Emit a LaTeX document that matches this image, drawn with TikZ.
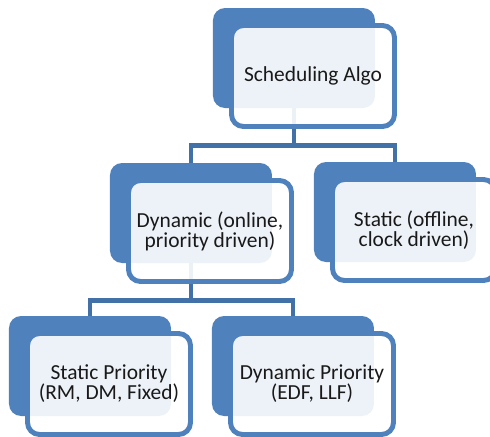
\documentclass[tikz,border=0pt]{standalone}
\usepackage{fontspec}
\setmainfont{Carlito}
\definecolor{boxblue}{RGB}{79,129,189}
\definecolor{linkblue}{RGB}{65,113,167}
\tikzset{back/.style={fill=boxblue,rounded corners=0.24cm,minimum width=3.24cm,minimum height=2cm},
  front/.style={draw=boxblue,line width=2.8pt,fill=white,fill opacity=0.9,text opacity=1,
    rounded corners=0.24cm,minimum width=3.26cm,minimum height=2.02cm,align=center,
    text=black!90,font=\fontsize{12.2}{11.4}\selectfont},
  link/.style={draw=linkblue,line width=2.8pt}}

\begin{document}
\begin{tikzpicture}
  \useasboundingbox (0,0) rectangle (9.8,-8.74);
  \node[back] (algo) at (5.88,-1.16) {};
  \node[back] (dyn) at (3.82,-4.26) {};
  \node[back] (stat) at (7.90,-4.24) {};
  \node[back] (sprio) at (1.80,-7.32) {};
  \node[back] (dprio) at (5.86,-7.32) {};

  \draw[link] (algo.south) -- ++(0,-0.74) -| (dyn.north);
  \draw[link] (algo.south) -- ++(0,-0.74) -| (stat.north);
  \draw[link] (dyn.south) -- ++(0,-0.74) -| (sprio.north);
  \draw[link] (dyn.south) -- ++(0,-0.74) -| (dprio.north);

  \node[front] (algoT) at (6.26,-1.52) {Scheduling Algo};
  \node[front] (dynT) at (4.20,-4.62) {Dynamic (online,\\priority driven)};
  \node[front] (statT) at (8.28,-4.60) {Static (offline,\\clock driven)};
  \node[front] (sprioT) at (2.18,-7.68) {Static Priority\\(RM, DM, Fixed)};
  \node[front] (dprioT) at (6.24,-7.68) {Dynamic Priority\\(EDF, LLF)};
\end{tikzpicture}
\end{document}
